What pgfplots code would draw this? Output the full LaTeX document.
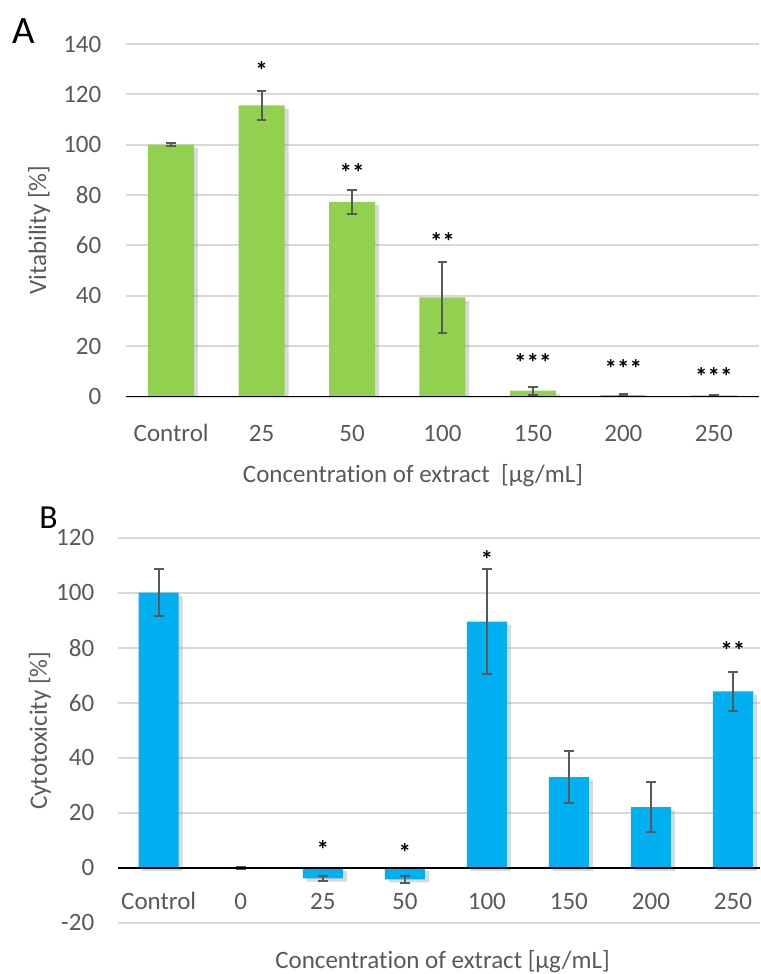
\documentclass[border=0pt]{standalone}
\usepackage{fontspec}
\setmainfont{Carlito}[Ligatures=CommonOff]
\usepackage{pgfplots}
\pgfplotsset{compat=1.18}
\usepackage{pgfplotstable}
\usetikzlibrary{shadows}

\definecolor{barGreen}{HTML}{92D050}
\definecolor{barBlue}{HTML}{00B0F0}
\definecolor{txtGray}{HTML}{595959}
\definecolor{gridGray}{HTML}{D9D9D9}

% panel A: viability
\pgfplotstableread{
x y e
0 100.0 0.5
1 115.6 5.8
2 77.3 4.8
3 39.4 14.2
4 2.3 1.6
5 0.5 0.3
6 0.4 0.2
}\vitab

% panel B: cytotoxicity
\pgfplotstableread{
x y e
0 100.0 8.5
1 0.0 0.4
2 -3.9 0.9
3 -4.2 1.3
4 89.5 19.1
5 32.9 9.4
6 22.0 9.0
7 64.1 7.0
}\cytotab

\newcommand{\fs}{\fontsize{12.5}{15}\selectfont}

\tikzset{stars/.style={font=\fs\bfseries, anchor=base, yshift=-6.2pt, text=black}}

\pgfplotsset{
  panel/.style={
    scale only axis,
    anchor=south west,
    axis line style={draw=none},
    major tick length=0pt,
    ymajorgrids,
    grid style={gridGray, line width=1pt},
    tick label style={font=\fs, text=txtGray},
    label style={font=\fs, text=txtGray},
    /pgf/number format/assume math mode=true,
    xtick={0,...,7},
  },
  bars/.style={
    ybar, draw=none, forget plot,
    drop shadow={shadow xshift=2pt, shadow yshift=-1.6pt, opacity=0.3},
    /pgfplots/error bars/y dir=both,
    /pgfplots/error bars/y explicit,
    /pgfplots/error bars/error bar style={txtGray, line width=1pt},
    /pgfplots/error bars/error mark options={rotate=90, txtGray, mark size=2.4pt, line width=1pt},
  },
}

\begin{document}
\begin{tikzpicture}

\begin{axis}[panel,
  at={(63pt,-198.25pt)},
  width=316.5pt, height=176.25pt,
  xmin=-0.5, xmax=6.5, ymin=0, ymax=140,
  ytick={0,20,...,140},
  xticklabels={Control,25,50,100,150,200,250},
  xticklabel style={anchor=center, yshift=-18.25pt},
  yticklabel style={xshift=-8.8pt},
  ylabel={Vitability [\%]},
  ylabel style={at={(axis description cs:-0.1374,0.472)}, anchor=center},
  xlabel={Concentration of extract\ \ [µg/mL]},
  xlabel style={at={(axis description cs:0.4534,-0.2255)}, anchor=center},
]
\addplot[bar width=23pt, fill=barGreen, bars] table[x=x, y=y, y error=e] {\vitab};
\addplot[black, line width=1pt, forget plot] coordinates {(-0.5,0) (6.5,0)};
\node[stars] at (axis cs:1,130.7) {*};
\node[stars] at (axis cs:2,90.2) {**};
\node[stars] at (axis cs:3,63.1) {**};
\node[stars] at (axis cs:4,14.8) {***};
\node[stars] at (axis cs:5,12.5) {***};
\node[stars] at (axis cs:6,9.4) {***};
\end{axis}

\begin{axis}[panel,
  at={(58.85pt,-461.35pt)},
  width=321.15pt, height=192.5pt,
  xmin=-0.5, xmax=7.33, ymin=-20, ymax=120,
  ytick={-20,0,...,120},
  xticklabels={Control,0,25,50,100,150,200,250},
  xticklabel style={anchor=center, yshift=10.7pt},
  yticklabel style={xshift=-8.2pt},
  ylabel={Cytotoxicity [\%]},
  ylabel style={at={(axis description cs:-0.121,0.499)}, anchor=center},
  xlabel={Concentration of extract [µg/mL]},
  xlabel style={at={(axis description cs:0.5057,-0.102)}, anchor=center},
]
\addplot[bar width=20pt, fill=barBlue, bars] table[x=x, y=y, y error=e] {\cytotab};
\addplot[black, line width=1pt, forget plot] coordinates {(-0.5,0) (7.33,0)};
\node[stars] at (axis cs:4,113.3) {*};
\node[stars] at (axis cs:7,80.1) {**};
\node[stars] at (axis cs:2,7.8) {*};
\node[stars] at (axis cs:3,6.9) {*};
\end{axis}

\node[font=\fontsize{19.4}{22}\selectfont] at (12pt,-15.5pt) {A};
\node[font=\fontsize{16.8}{20}\selectfont] at (24.25pt,-258.75pt) {B};

\pgfresetboundingbox
\path[use as bounding box] (0,0) rectangle (380pt,-487pt);
\end{tikzpicture}
\end{document}
